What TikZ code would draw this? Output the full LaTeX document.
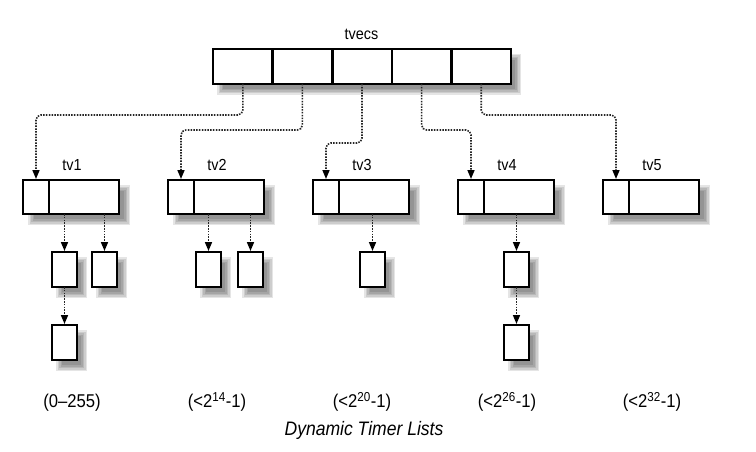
\documentclass[tikz,border=0pt]{standalone}
\usepackage{fontspec}
\setmainfont{Liberation Sans}[FakeStretch=0.9]
\usetikzlibrary{arrows.meta,calc}
\pgfdeclarelayer{bg}
\pgfdeclarelayer{paper}
\pgfsetlayers{paper,bg,main}
\newcommand\blurshadow[4]{% #1 NW anchor, #2 SE anchor, #3 dx, #4 dy
  \foreach \d in {-3,-1.5,0,1.5,3}{
    \fill[black,opacity=0.1] ($(#1)+(#3-\d,#4-\d)$) rectangle ($(#2)+(#3+\d,#4+\d)$);
  }}
\begin{document}
\begin{tikzpicture}[x=1pt,y=-1pt,
  cellbox/.style={draw, line width=2.6pt, fill=white, inner sep=0pt, outer sep=0pt},
  topcell/.style={cellbox, minimum width=59.6pt, minimum height=35pt},
  lcell/.style={cellbox, minimum width=26pt, minimum height=34pt},
  rcell/.style={cellbox, minimum width=70pt, minimum height=34pt},
  subbox/.style={cellbox, minimum width=25pt, minimum height=35pt},
  lbl/.style={font=\fontsize{16}{19}\selectfont, inner sep=0pt, anchor=base},
  rng/.style={font=\fontsize{18.5}{22}\selectfont, inner sep=0pt, anchor=base},
  conn/.style={line width=1.6pt, black!85, dash pattern=on 1.5pt off 1.3pt,
    rounded corners=5pt, shorten >=1pt, -{Triangle[length=9pt,width=7pt,fill=black,color=black]}},
]
\begin{pgfonlayer}{paper}
\useasboundingbox[fill=white] (0,0) rectangle (756,452);
\end{pgfonlayer}

% tvecs array
\node[lbl] (ltvecs) at (361.5,40) {tvecs};
\node[topcell] (v1) at (242.8,66.5) {};
\node[topcell] (v2) at (302.4,66.5) {};
\node[topcell] (v3) at (362.0,66.5) {};
\node[topcell] (v4) at (421.6,66.5) {};
\node[topcell] (v5) at (481.2,66.5) {};

% tv1..tv5
\foreach \i/\L in {1/23,2/168,3/313,4/458,5/603}{
  \node[lcell] (t\i a) at (\L+13,197) {};
  \node[rcell] (t\i b) at (\L+61,197) {};
  \node[lbl] (lt\i) at (\L+49,171) {tv\i};
}

% list entries
\node[subbox] (c1a) at (64.5,269.5) {};
\node[subbox] (c1b) at (104.5,269.5) {};
\node[subbox] (c1c) at (64.5,342.5) {};
\node[subbox] (c2a) at (208.5,269.5) {};
\node[subbox] (c2b) at (250.5,269.5) {};
\node[subbox] (c3a) at (372.5,269.5) {};
\node[subbox] (c4a) at (516.5,269.5) {};
\node[subbox] (c4b) at (516.5,342.5) {};

% range labels
\node[rng] (r1) at (72,407.5) {(0–255)};
\node[rng] (r2) at (217,407.5) {(<2\textsuperscript{14}-1)};
\node[rng] (r3) at (362,407.5) {(<2\textsuperscript{20}-1)};
\node[rng] (r4) at (507,407.5) {(<2\textsuperscript{26}-1)};
\node[rng] (r5) at (652,407.5) {(<2\textsuperscript{32}-1)};
\node[font=\fontsize{19.5}{23}\selectfont\itshape, inner sep=0pt, anchor=base] (title) at (364,435) {Dynamic Timer Lists};

% levels of horizontal runs
\coordinate (h1) at (0,115);
\coordinate (h2) at (0,130);
\coordinate (h3) at (0,143);

% connectors from tvecs
\draw[conn] (v1.south) -- (v1.south |- h1) -- (t1a.north |- h1) -- (t1a.north);
\draw[conn] (v2.south) -- (v2.south |- h2) -- (t2a.north |- h2) -- (t2a.north);
\draw[conn] (v3.south) -- (v3.south |- h3) -- (t3a.north |- h3) -- (t3a.north);
\draw[conn] (v4.south) -- (v4.south |- h2) -- (t4a.north |- h2) -- (t4a.north);
\draw[conn] (v5.south) -- (v5.south |- h1) -- (t5a.north |- h1) -- (t5a.north);

% connectors to list entries
\draw[conn] (c1a.north |- t1b.south) -- (c1a.north);
\draw[conn] (c1b.north |- t1b.south) -- (c1b.north);
\draw[conn] (c1a.south) -- (c1c.north);
\draw[conn] (c2a.north |- t2b.south) -- (c2a.north);
\draw[conn] (c2b.north |- t2b.south) -- (c2b.north);
\draw[conn] (c3a.north |- t3b.south) -- (c3a.north);
\draw[conn] (c4a.north |- t4b.south) -- (c4a.north);
\draw[conn] (c4a.south) -- (c4b.north);

% shadows
\begin{pgfonlayer}{bg}
  \blurshadow{v1.north west}{v5.south east}{7}{8}
  \foreach \i in {1,...,5}{\blurshadow{t\i a.north west}{t\i b.south east}{8}{8}}
  \foreach \c in {c1a,c1b,c1c,c2a,c2b,c3a,c4a,c4b}{\blurshadow{\c.north west}{\c.south east}{7}{8}}
\end{pgfonlayer}
\end{tikzpicture}
\end{document}
